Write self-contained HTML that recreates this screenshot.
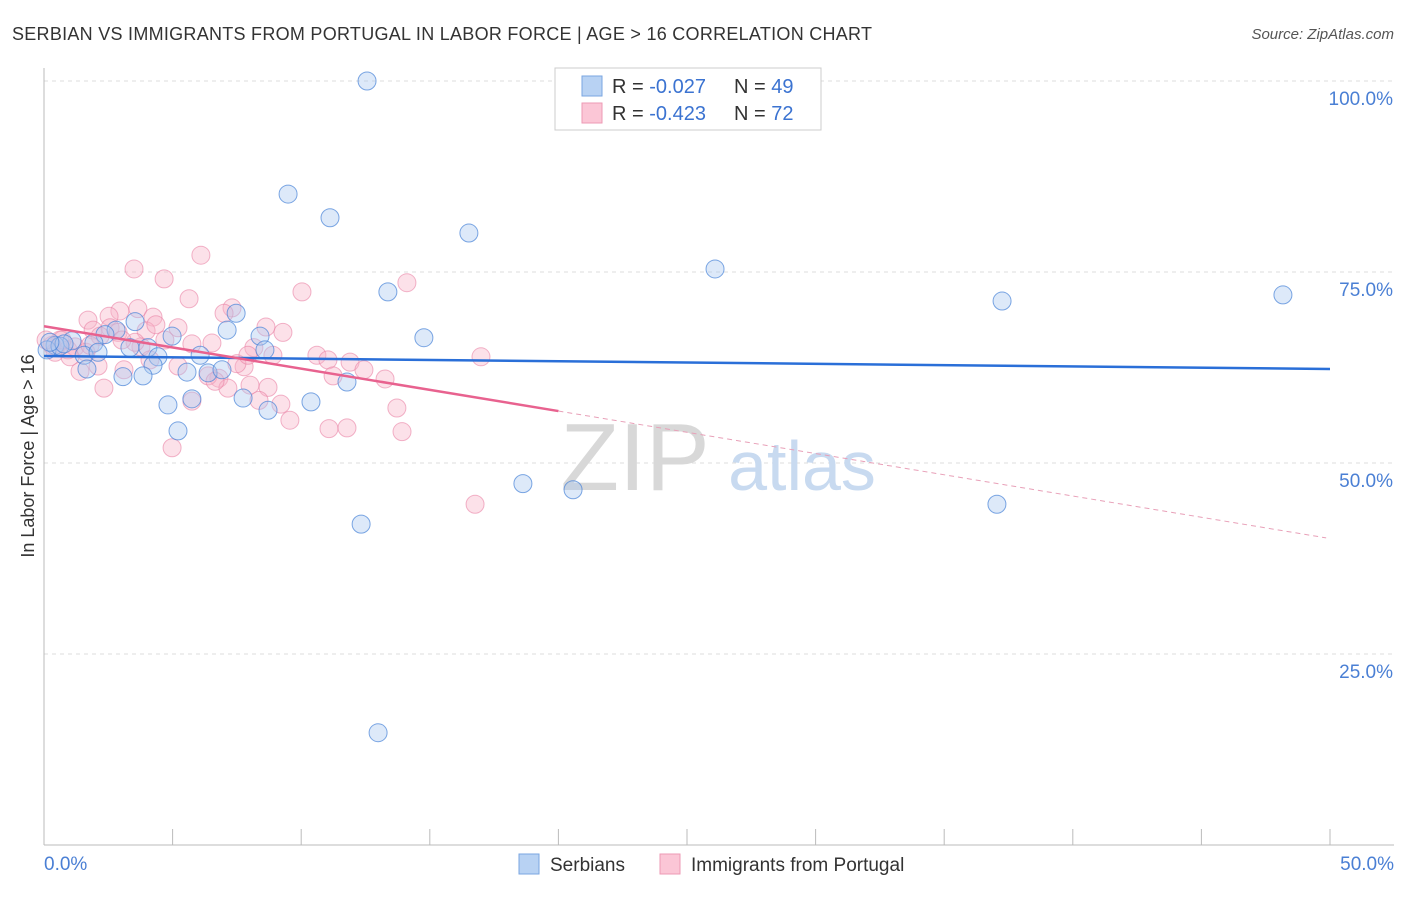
<!DOCTYPE html>
<html><head><meta charset="utf-8"><style>
body{margin:0;background:#fff;font-family:"Liberation Sans",sans-serif}
svg text{font-family:"Liberation Sans",sans-serif}
</style></head><body>
<svg id="chart" width="1406" height="892" xmlns="http://www.w3.org/2000/svg">
<text x="12" y="40" font-size="18" fill="#333" textLength="860">SERBIAN VS IMMIGRANTS FROM PORTUGAL IN LABOR FORCE | AGE &gt; 16 CORRELATION CHART</text>
<text x="1394" y="39" font-size="15" fill="#555" text-anchor="end" font-style="italic">Source: ZipAtlas.com</text>
<g id="grid"></g>
<g id="watermark">
<text x="635" y="490" font-size="96" fill="#d8d8d8" font-family="Liberation Serif" text-anchor="middle">ZIP</text>
<text x="802" y="490" font-size="70" fill="#c8daf0" text-anchor="middle">atlas</text>
</g>
<line x1="44" y1="68" x2="44" y2="845" stroke="#bbb"/>
<line x1="44" y1="845" x2="1394" y2="845" stroke="#bbb"/>
<g id="xticks"></g>
<g id="points"></g>
<g id="trends"></g>
<text x="34" y="456" font-size="18" fill="#333" text-anchor="middle" transform="rotate(-90 34 456)">In Labor Force | Age &gt; 16</text>
<text x="44" y="870" font-size="19" fill="#4a7fd4">0.0%</text>
<text x="1394" y="870" font-size="19" fill="#4a7fd4" text-anchor="end">50.0%</text>
<g>
<rect x="555" y="68" width="266" height="62" fill="#fff" stroke="#ccc"/>
<rect x="582" y="76" width="20" height="20" fill="#b8d2f3" stroke="#7aa6e0"/>
<rect x="582" y="103" width="20" height="20" fill="#fbc6d6" stroke="#ee9ab4"/>
<text x="612" y="93" font-size="20" fill="#333">R = <tspan fill="#3b73d1">-0.027</tspan></text>
<text x="734" y="93" font-size="20" fill="#333">N = <tspan fill="#3b73d1">49</tspan></text>
<text x="612" y="120" font-size="20" fill="#333">R = <tspan fill="#3b73d1">-0.423</tspan></text>
<text x="734" y="120" font-size="20" fill="#333">N = <tspan fill="#3b73d1">72</tspan></text>
</g>
<g>
<rect x="519" y="854" width="20" height="20" fill="#b8d2f3" stroke="#7aa6e0"/>
<text x="550" y="871" font-size="19" fill="#333">Serbians</text>
<rect x="660" y="854" width="20" height="20" fill="#fbc6d6" stroke="#ee9ab4"/>
<text x="691" y="871" font-size="19" fill="#333">Immigrants from Portugal</text>
</g>
</svg>
<script>
const yTicks=[25,50,75,100];
const yTickLabels=["25.0%","50.0%","75.0%","100.0%"];
const xTicks=[0,5,10,15,20,25,30,35,40,45,50];
const serbX=[12.56,9.49,11.12,16.52,26.09,37.25,48.17,13.37,14.77,7.47,7.12,3.54,8.40,2.80,2.37,1.94,1.09,0.43,0.12,0.62,1.56,2.10,3.34,4.04,4.43,4.24,4.98,6.07,5.56,6.38,6.92,3.85,3.07,1.67,5.75,4.82,7.74,8.71,10.38,11.78,8.59,5.21,18.62,20.57,12.33,37.05,12.99,0.78,0.23];
const serbY=[100.0,85.2,82.1,80.1,75.4,71.2,72.0,72.4,66.4,69.6,67.4,68.5,66.6,67.4,66.8,65.7,66.0,65.4,64.8,65.3,64.1,64.5,65.1,65.1,63.9,62.8,66.6,64.1,61.9,61.8,62.2,61.4,61.3,62.3,58.4,57.6,58.5,56.9,58.0,60.6,64.8,54.2,47.3,46.5,42.0,44.6,14.7,65.6,65.8];
const portX=[6.10,3.50,4.67,14.11,5.64,10.03,2.95,3.65,4.24,2.53,1.71,1.91,2.57,3.97,5.21,7.31,7.00,8.63,9.29,6.53,4.70,3.77,8.16,8.90,10.61,11.04,11.90,12.44,13.26,16.99,7.78,3.11,2.10,1.40,2.33,6.80,7.15,8.01,8.71,8.36,9.21,9.56,11.24,13.72,13.92,11.08,11.78,4.98,16.76,5.75,0.62,0.31,0.93,1.21,1.63,2.18,2.88,0.43,0.70,3.54,5.75,4.35,6.38,6.65,5.21,7.50,3.03,1.01,1.79,0.08,4.12,7.93];
const portY=[77.2,75.4,74.1,73.6,71.5,72.4,69.9,70.2,69.1,69.2,68.7,67.4,67.7,67.3,67.7,70.3,69.6,67.8,67.1,65.7,66.1,65.2,65.1,64.1,64.1,63.5,63.2,62.2,61.0,63.9,62.6,62.2,62.7,62.0,59.8,61.1,59.8,60.2,59.9,58.2,57.7,55.6,61.4,57.2,54.1,54.5,54.6,52.0,44.6,58.1,66.1,65.4,64.8,65.2,64.5,66.6,67.1,64.5,66.1,65.8,65.6,68.1,61.4,60.7,62.7,63.0,66.1,63.9,65.4,66.1,63.5,64.1];
const serbTrend=[[0,64.0],[50,62.3]];
const portTrendSolid=[[0,67.9],[20,56.8]];
const portTrendDash=[[20,56.8],[49.85,40.2]];
const NS="http://www.w3.org/2000/svg";
const xs=v=>44+v*25.72, ys=v=>845-v*7.64;
function mk(t,a,p){const e=document.createElementNS(NS,t);for(const k in a)e.setAttribute(k,a[k]);p.appendChild(e);return e;}
const grid=document.getElementById('grid');
yTicks.forEach((t,i)=>{
 const l=mk('line',{x1:44,x2:1394,y1:ys(t),y2:ys(t),stroke:'#ddd','stroke-dasharray':'4,4'},grid);
 
 
 const tx=mk('text',{x:1393,y:ys(t)+24,'font-size':19,fill:'#4a7fd4','text-anchor':'end'},grid);
 tx.textContent=yTickLabels[i];
 
 
});
const xt=document.getElementById('xticks');
xTicks.forEach(t=>{const l=mk('line',{x1:xs(t),x2:xs(t),y1:829,y2:845,stroke:'#bbb'},xt);
 
 });
const pts=document.getElementById('points');
portX.forEach((x,i)=>{const c=mk('circle',{cx:xs(x),cy:ys(portY[i]),r:9,fill:'rgba(248,180,200,0.4)',stroke:'rgba(234,130,165,0.6)','stroke-width':1},pts);
 
 });
serbX.forEach((x,i)=>{const c=mk('circle',{cx:xs(x),cy:ys(serbY[i]),r:9,fill:'rgba(170,200,240,0.4)',stroke:'rgba(70,130,215,0.7)','stroke-width':1},pts);
 
 });
const tr=document.getElementById('trends');
function ln(p,st,w,d,name){const l=mk('line',{x1:xs(p[0][0]),y1:ys(p[0][1]),x2:xs(p[1][0]),y2:ys(p[1][1]),stroke:st,'stroke-width':w},tr);if(d)l.setAttribute('stroke-dasharray',d);
 
 }
ln(serbTrend,'#2a6fd8',2.5,null,'serbian-trendline');
ln(portTrendSolid,'#e8628f',2.5,null,'portugal-trendline');
ln(portTrendDash,'#e8a0b8',1,'5,4','portugal-trendline-extension');
</script>
</body></html>
